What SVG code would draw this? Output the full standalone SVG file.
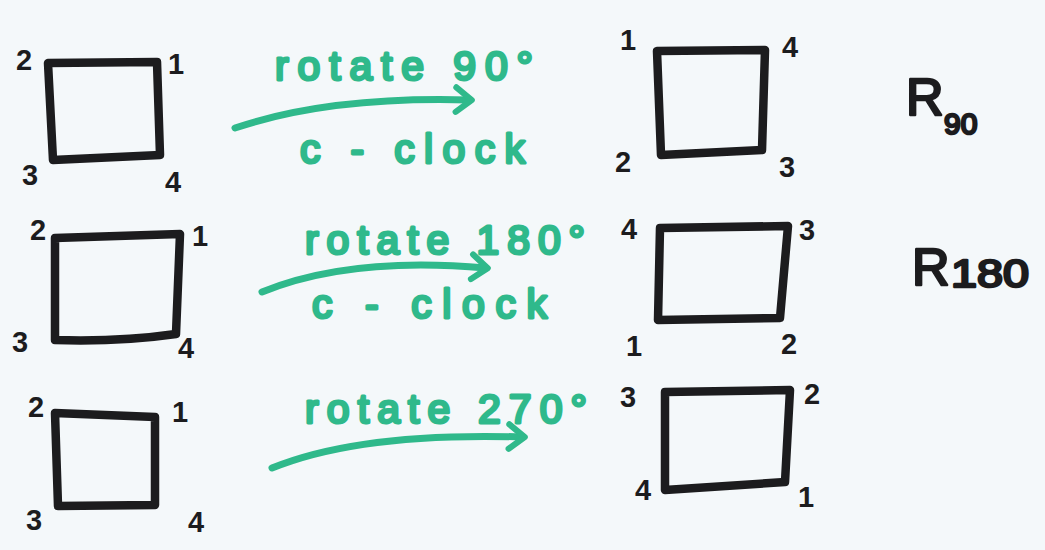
<svg xmlns="http://www.w3.org/2000/svg" width="1045" height="550" viewBox="0 0 1045 550">
<style>
.sq{fill:none;stroke:#1c1c1e;stroke-width:8.5;stroke-linecap:round;stroke-linejoin:round}
.n{font-family:"Liberation Sans",Arial,sans-serif;font-weight:bold;font-size:29px;fill:#1c1c1e}
.g{font-family:"Liberation Sans",Arial,sans-serif;font-size:41px;fill:#2fb98b;stroke:#2fb98b;stroke-width:3;stroke-linejoin:round}
.ar{fill:none;stroke:#2fb98b;stroke-width:7;stroke-linecap:round}
.R{font-family:"Liberation Sans",Arial,sans-serif;font-size:52px;fill:#1c1c1e;stroke:#1c1c1e;stroke-width:2.5;stroke-linejoin:round}
</style>
<defs>
<marker id="hd" viewBox="0 0 20 20" refX="12" refY="10" markerWidth="5" markerHeight="5" orient="auto" markerUnits="strokeWidth">
<path d="M4,3 L13,10 L4,17" fill="none" stroke="#2fb98b" stroke-width="3.5" stroke-linecap="round" stroke-linejoin="round"/>
</marker>
</defs>
<rect width="1045" height="550" fill="#f4f8fa"/>
<g id="sq1">
<path class="sq" d="M48,63 L157,62 L160,155 L53,160 Z"/>
<text class="n" x="16" y="70">2</text><text class="n" x="168" y="74">1</text>
<text class="n" x="22" y="185">3</text><text class="n" x="165" y="192">4</text>
</g>
<g id="sq2">
<path class="sq" d="M55,238 L180,234 L176,334 Q120,342 55,340 Z"/>
<text class="n" x="30" y="240">2</text><text class="n" x="192" y="246">1</text>
<text class="n" x="12" y="352">3</text><text class="n" x="178" y="358">4</text>
</g>
<g id="sq3">
<path class="sq" d="M55,413 L155,417 L155,505 L58,506 Z"/>
<text class="n" x="28" y="417">2</text><text class="n" x="172" y="422">1</text>
<text class="n" x="26" y="530">3</text><text class="n" x="188" y="532">4</text>
</g>
<g id="r90">
<path class="sq" d="M657,51 L765,50 L762,150 L661,155 Z"/>
<text class="n" x="620" y="50">1</text><text class="n" x="782" y="57">4</text>
<text class="n" x="615" y="172">2</text><text class="n" x="779" y="177">3</text>
<text class="R" x="906" y="115">R</text><text class="R" x="944" y="134" style="font-size:30px">90</text>
</g>
<g id="r180">
<path class="sq" d="M660,228 L788,226 L780,318 L658,320 Z"/>
<text class="n" x="621" y="239">4</text><text class="n" x="799" y="240">3</text>
<text class="n" x="626" y="356">1</text><text class="n" x="781" y="354">2</text>
<text class="R" x="912" y="285">R</text><text class="R" x="951" y="287" style="font-size:38px" textLength="78" lengthAdjust="spacingAndGlyphs">180</text>
</g>
<g id="r270">
<path class="sq" d="M665,392 L790,390 L785,482 L665,490 Z"/>
<text class="n" x="620" y="407">3</text><text class="n" x="804" y="404">2</text>
<text class="n" x="635" y="500">4</text><text class="n" x="798" y="507">1</text>
</g>
<g id="labels">
<text class="g" x="275" y="80" textLength="258" lengthAdjust="spacing">rotate 90°</text>
<text class="g" x="300" y="163" textLength="225" lengthAdjust="spacing">c - clock</text>
<text class="g" x="305" y="254" textLength="280" lengthAdjust="spacing">rotate 180°</text>
<text class="g" x="312" y="318" textLength="235" lengthAdjust="spacing">c - clock</text>
<text class="g" x="305" y="423" textLength="282" lengthAdjust="spacing">rotate 270°</text>
</g>
<g id="connectors">
<path class="ar" marker-end="url(#hd)" d="M235,128 Q330,96 470,100"/>
<path class="ar" marker-end="url(#hd)" d="M262,292 Q350,256 486,268"/>
<path class="ar" marker-end="url(#hd)" d="M272,468 Q360,432 523,437"/>
</g>
</svg>
